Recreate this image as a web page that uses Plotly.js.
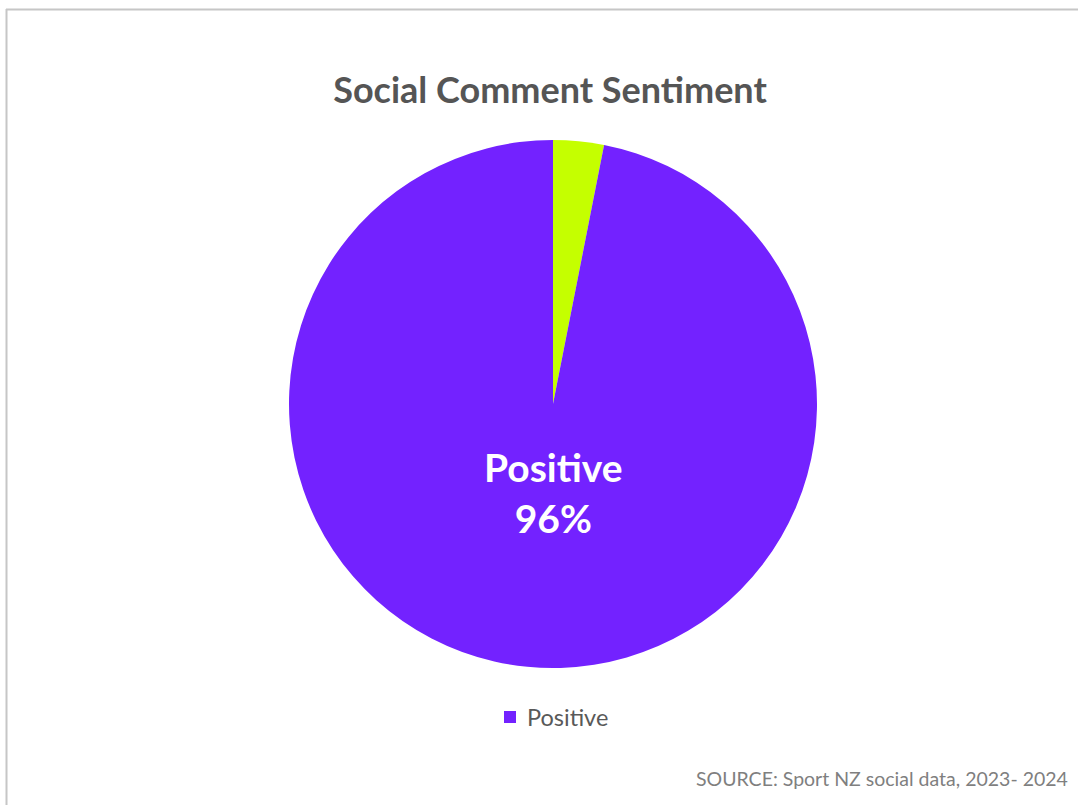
<!DOCTYPE html>
<html>
<head>
<meta charset="utf-8">
<script src="https://cdn.plot.ly/plotly-3.0.1.min.js"></script>
<style>
html,body{margin:0;padding:0;background:#fff;}
#chart{width:1078px;height:805px;}
</style>
</head>
<body>
<div id="chart"></div>
<script>
const categories = ["Negative", "Positive"];
const values = [3.1, 96.9];
const shownPct = ["", "96%"];
const colors = ["#C5FF00", "#7322FF"];
const legendItems = ["Positive"];
const titleText = "Social Comment Sentiment";
const sourceText = "SOURCE: Sport NZ social data, 2023- 2024";

const W = 1078, H = 805;
const px = x => x / W;
const py = y => 1 - y / H;
const FONT = "Lato, 'Open Sans', sans-serif";

const trace = {
  type: "pie",
  labels: categories,
  values: values,
  sort: false,
  direction: "clockwise",
  rotation: 0,
  marker: {colors: colors, line: {width: 0}},
  textinfo: "none",
  hoverinfo: "label+percent",
  showlegend: false,
  domain: {x: [px(553 - 264), px(553 + 264)], y: [py(668), py(140)]}
};

const annotations = [
  {
    text: "<b>" + categories[1] + "<br>" + shownPct[1] + "</b>",
    x: px(553), y: py(492), xref: "paper", yref: "paper",
    showarrow: false, xanchor: "center", yanchor: "middle",
    font: {family: FONT, size: 39, color: "#ffffff", weight: 800}
  },
  {
    text: legendItems[0],
    x: px(525), y: py(717), xref: "paper", yref: "paper",
    showarrow: false, xanchor: "left", yanchor: "middle",
    font: {family: FONT, size: 23.5, color: "#595959"}
  },
  {
    text: sourceText,
    x: px(1070), y: py(778), xref: "paper", yref: "paper",
    showarrow: false, xanchor: "right", yanchor: "middle",
    font: {family: FONT, size: 19.5, color: "#7f7f7f"}
  }
];

const shapes = [
  {type: "rect", xref: "paper", yref: "paper",
   x0: px(504), x1: px(516), y0: py(711), y1: py(723),
   fillcolor: colors[1], line: {width: 0}},
  {type: "line", xref: "paper", yref: "paper",
   x0: px(6.5), x1: px(6.5), y0: py(9), y1: py(805),
   line: {color: "#c6c6c6", width: 2}},
  {type: "line", xref: "paper", yref: "paper",
   x0: px(6), x1: px(1078), y0: py(9.5), y1: py(9.5),
   line: {color: "#c6c6c6", width: 2}}
];

const layout = {
  width: W, height: H,
  margin: {l: 0, r: 0, t: 0, b: 0},
  paper_bgcolor: "#ffffff",
  plot_bgcolor: "#ffffff",
  title: {
    text: "<b>" + titleText + "</b>",
    x: px(550), xanchor: "center", xref: "paper",
    y: py(90), yanchor: "middle", yref: "paper",
    font: {family: FONT, size: 36, color: "#555555", weight: 800}
  },
  showlegend: false,
  annotations: annotations,
  shapes: shapes
};

Plotly.newPlot("chart", [trace], layout, {displayModeBar: false, staticPlot: true});
</script>
</body>
</html>
